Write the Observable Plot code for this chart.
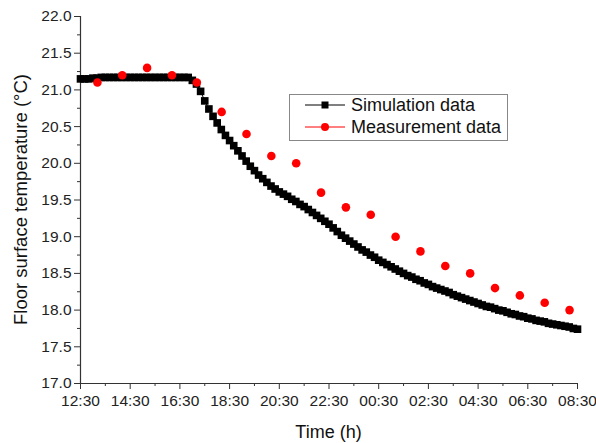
<!DOCTYPE html>
<html>
<head>
<meta charset="utf-8">
<script src="https://cdn.jsdelivr.net/npm/d3@7"></script>
<script src="https://cdn.jsdelivr.net/npm/@observablehq/plot@0.6"></script>
<style>
  html, body { margin: 0; padding: 0; background: #fff; }
  #wrap { position: relative; width: 596px; height: 443px; font-family: "Liberation Sans", Arial, sans-serif; }
  #legend { position: absolute; left: 289px; top: 94px; width: 219px; height: 47px; border: 1px solid #888; background: #fff; box-sizing: border-box; }
  .row { position: absolute; left: 0; height: 20px; display: flex; align-items: center; font-size: 18px; color: #111; }
  .row svg { margin-left: 15px; margin-right: 6px; }
</style>
</head>
<body>
<div id="wrap"></div>
<script>
// ---- data ----
// x in hours after 12:30
const xTickHours = [0, 2, 4, 6, 8, 10, 12, 14, 16, 18, 20];
const xTickLabels = ["12:30", "14:30", "16:30", "18:30", "20:30", "22:30", "00:30", "02:30", "04:30", "06:30", "08:30"];
const xMinorHours = [1, 3, 5, 7, 9, 11, 13, 15, 17, 19];
const yTicks = [17.0, 17.5, 18.0, 18.5, 19.0, 19.5, 20.0, 20.5, 21.0, 21.5, 22.0];
const yMinor = [17.25, 17.75, 18.25, 18.75, 19.25, 19.75, 20.25, 20.75, 21.25, 21.75];

// Simulation data: one value every 10 minutes from 12:30 to 08:30
const simStepMinutes = 10;
const simValues = [
  21.15, 21.15, 21.15, 21.16, 21.16, 21.17, 21.17,
  21.17, 21.17, 21.17, 21.17, 21.17, 21.17, 21.17, 21.17, 21.17, 21.17,
  21.17, 21.17, 21.17, 21.17, 21.17, 21.17, 21.17, 21.17, 21.17,
  21.17, 21.13, 21.08, 20.98, 20.85, 20.74, 20.64, 20.55, 20.46, 20.38,
  20.31, 20.24, 20.17, 20.10, 20.03, 19.96, 19.90, 19.84, 19.79, 19.74,
  19.69, 19.65, 19.61, 19.58, 19.55, 19.51, 19.48, 19.44, 19.41, 19.37,
  19.33, 19.29, 19.25, 19.21, 19.17, 19.12, 19.07, 19.02, 18.98, 18.94,
  18.90, 18.86, 18.82, 18.79, 18.75, 18.72, 18.68, 18.65, 18.62, 18.59,
  18.56, 18.53, 18.50, 18.47, 18.45, 18.42, 18.40, 18.37, 18.35, 18.32,
  18.30, 18.28, 18.26, 18.24, 18.21, 18.19, 18.17, 18.15, 18.13, 18.11,
  18.09, 18.07, 18.05, 18.04, 18.02, 18.00, 17.99, 17.97, 17.95, 17.94,
  17.92, 17.91, 17.89, 17.88, 17.86, 17.85, 17.84, 17.82, 17.81, 17.80,
  17.79, 17.78, 17.77, 17.75, 17.74
];

// Measurement data: hourly readings
const measHours = [0.68, 1.68, 2.68, 3.68, 4.68, 5.68, 6.68, 7.68, 8.68, 9.68,
                   10.68, 11.68, 12.68, 13.68, 14.68, 15.68, 16.68, 17.68, 18.68, 19.68];
const measValues = [21.1, 21.2, 21.3, 21.2, 21.1, 20.7, 20.4, 20.1, 20.0, 19.6,
                    19.4, 19.3, 19.0, 18.8, 18.6, 18.5, 18.3, 18.2, 18.1, 18.0];

const seriesNames = ["Simulation data", "Measurement data"];
const xTitle = "Time (h)";
const yTitle = "Floor surface temperature (°C)";

// ---- build tables ----
const sim = simValues.map((v, i) => ({ h: i * simStepMinutes / 60, v }));
const meas = measHours.map((h, i) => ({ h, v: measValues[i] }));
const labelOf = new Map(xTickHours.map((h, i) => [h, xTickLabels[i]]));

const axisColor = "#333";
const font = "Liberation Sans, Arial, sans-serif";

const chart = Plot.plot({
  width: 596,
  height: 443,
  marginLeft: 80,
  marginRight: 19,
  marginTop: 16,
  marginBottom: 60,
  style: { fontFamily: font, fontSize: "15.5px", color: "#222", background: "white" },
  x: { domain: [0, 20] },
  y: { domain: [17, 22] },
  marks: [
    // axis lines
    Plot.ruleX([0], { stroke: axisColor, strokeWidth: 1.2 }),
    Plot.ruleY([17], { stroke: axisColor, strokeWidth: 1.2 }),
    // x axis
    Plot.axisX({ ticks: xTickHours, tickSize: 6, tickPadding: 5, stroke: axisColor,
      tickFormat: d => labelOf.get(d), fontSize: 15.5, label: null }),
    Plot.axisX({ ticks: xMinorHours, tickSize: 3, tickFormat: null, text: null, stroke: axisColor, label: null }),
    // y axis
    Plot.axisY({ ticks: yTicks, tickSize: 6, tickPadding: 3, stroke: axisColor,
      tickFormat: d => d.toFixed(1), fontSize: 15.5, label: null }),
    Plot.axisY({ ticks: yMinor, tickSize: 3, text: null, stroke: axisColor, label: null }),
    // simulation
    Plot.line(sim, { x: "h", y: "v", stroke: "black", strokeWidth: 1 }),
    Plot.dot(sim, { x: "h", y: "v", symbol: "square", r: 4.3, fill: "black", stroke: "none" }),
    // measurement
    Plot.dot(meas, { x: "h", y: "v", r: 4.3, fill: "#ff0000", stroke: "none" })
  ]
});

const wrap = document.getElementById("wrap");
wrap.appendChild(chart);

// axis titles
const svg = d3.select(chart);
svg.append("text")
  .attr("x", 80 + (577 - 80) / 2)
  .attr("y", 438)
  .attr("text-anchor", "middle")
  .attr("font-size", 18)
  .attr("fill", "#111")
  .text(xTitle);
svg.append("text")
  .attr("transform", `translate(27, ${16 + (383 - 16) / 2}) rotate(-90)`)
  .attr("text-anchor", "middle")
  .attr("font-size", 18.5)
  .attr("fill", "#111")
  .text(yTitle);

// legend
const legend = document.createElement("div");
legend.id = "legend";
const rows = [
  { name: seriesNames[0], top: 6, marker: `<line x1="0" y1="5" x2="40" y2="5" stroke="black" stroke-width="1"/><rect x="16.5" y="1.5" width="7" height="7" fill="black"/>` },
  { name: seriesNames[1], top: 28, marker: `<line x1="0" y1="5" x2="40" y2="5" stroke="red" stroke-width="1"/><circle cx="20" cy="5" r="4" fill="red"/>` }
];
for (const r of rows) {
  const d = document.createElement("div");
  d.className = "row";
  d.style.top = (r.top - 6) + "px";
  d.innerHTML = `<svg width="40" height="10">${r.marker}</svg><span>${r.name}</span>`;
  legend.appendChild(d);
}
wrap.appendChild(legend);
</script>
</body>
</html>
